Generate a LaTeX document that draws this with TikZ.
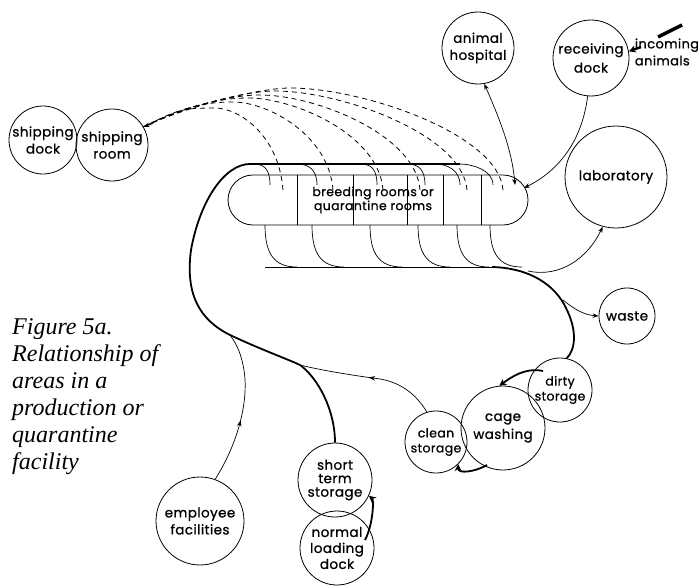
\documentclass[tikz,border=0pt]{standalone}
\usepackage{fontspec}
\setmainfont{Liberation Serif}
\newfontfamily\labelfont[LetterSpace=3,FakeBold=0.8]{Poppins}
\usetikzlibrary{arrows.meta,decorations.markings}
\begin{document}
\begin{tikzpicture}[x=1pt,y=-1pt,
  area/.style={circle,draw,line width=0.8pt,inner sep=0pt,align=center,
    font=\labelfont\fontsize{13.5}{17}\selectfont},
  thinline/.style={line width=0.7pt},
  thickline/.style={line width=1.8pt},
  dashline/.style={line width=0.8pt,dash pattern=on 5pt off 4pt},
  tip/.style={-{Stealth[length=6pt,width=4.5pt]}},
  twotip/.style={{Stealth[length=6pt,width=4.5pt]}-{Stealth[length=6pt,width=4.5pt]}},
  bigtip/.style={-{Stealth[length=7pt,width=7pt]}},
  midarrow/.style={postaction={decorate},decoration={markings,
    mark=at position #1 with {\arrow{Stealth[length=6pt,width=4.5pt]}}}}
]
\path[use as bounding box,fill=white] (0,0) rectangle (698,586);

% circles
\node[area,minimum size=68pt] (sdock) at (43,140) {shipping\\dock};
\node[area,minimum size=72pt] (sroom) at (112,145) {shipping\\room};
\node[area,minimum size=72pt] (hosp) at (478,48) {animal\\hospital};
\node[area,minimum size=76pt,font=\labelfont\fontsize{13.5}{19}\selectfont] (recv) at (591,58) {receiving\\dock};
\node[area,minimum size=102pt] (lab) at (616,177) {laboratory};
\node[area,minimum size=56pt] (waste) at (627,316) {waste};
\node[area,minimum size=64pt,font=\labelfont\fontsize{12.5}{15}\selectfont] (dirty) at (560,390) {dirty\\storage};
\node[area,minimum size=84pt,font=\labelfont\fontsize{13.5}{18}\selectfont] (cage) at (503,428) {cage\\washing};
\node[area,minimum size=62pt,font=\labelfont\fontsize{12.5}{15}\selectfont] (clean) at (436,442) {clean\\storage};
\node[area,minimum size=74pt,font=\labelfont\fontsize{13.5}{13.5}\selectfont] (short) at (335,480) {short\\term\\storage};
\node[area,minimum size=74pt,font=\labelfont\fontsize{13.5}{16}\selectfont] (load) at (337,548) {normal\\loading\\dock};
\node[area,minimum size=88pt] (emp) at (200,521) {employee\\facilities};

\node[font=\labelfont\fontsize{13}{17}\selectfont,align=left,inner sep=0pt] (inc) at (667,52) {incoming\\animals};

% rooms block
\node[draw,line width=0.8pt,rounded corners=25pt,minimum width=300pt,minimum height=50pt,inner sep=0pt] (rooms) at (378,200) {};
\foreach \x in {297,353,407,443,481} \draw[thinline] (\x,175) -- (\x,225);
\node[font=\labelfont\fontsize{12.5}{14}\selectfont,align=center,inner sep=0pt] (roomtext) at (373,200) {breeding rooms or\\quarantine rooms};

% top arcs from rooms into the collecting line
\foreach \s/\e in {253/270,297/317,360/377,407/425,435/460,460/493}
  \draw[thinline] (\s,164) .. controls (\s+12,164) and (\e,170) .. (\e,185);

% bottom arcs from rooms into lower line
\foreach \x in {265,312,370,418,457,490}
  \draw[thinline] (\x,225) .. controls (\x,255) and (\x+10,267) .. (\x+32,267);
\coordinate (botstart) at (265,267);
\coordinate (botend) at (492,267);
\draw[thinline] (botstart) -- (botend);

% main thick line (top collector to short term storage)
\coordinate (topend) at (460,164);
\coordinate (join1) at (230,335);
\coordinate (join2) at (300,365);
\draw[thickline] (topend) -- (250,164) .. controls (225,164) and (200,200) .. (191,250)
  .. controls (185,295) and (200,320) .. (join1)
  .. controls (262,350) and (285,358) .. (join2)
  .. controls (318,378) and (335,410) .. (short.north);

% thick line from lower collector to dirty storage
\draw[thickline] (botend) .. controls (530,268) and (555,285) .. (566,308)
  .. controls (578,332) and (575,350) .. (dirty.78);

% branches
\coordinate (labbr) at (528,271);
\draw[thinline,tip] (labbr) .. controls (560,278) and (588,258) .. (lab.-105);
\coordinate (wastebr) at (563,300);
\draw[thinline,tip] (wastebr) .. controls (575,310) and (585,315) .. (waste.west);

\draw[thinline,midarrow=0.42] (emp.70) .. controls (240,440) and (250,395) .. (243,365)
  .. controls (240,350) and (235,342) .. (join1);
\draw[thinline,midarrow=0.5] (clean.107) .. controls (415,392) and (398,382) .. (380,379)
  .. controls (350,375) and (320,370) .. (join2);

% hospital and receiving
\coordinate (hospin) at (515,185);
\draw[thinline,twotip] (hosp.-80) .. controls (500,120) and (512,150) .. (hospin);
\coordinate (recvin) at (524,188);
\draw[thinline,tip] (recv.-95) .. controls (582,140) and (560,170) .. (recvin);

% dashed returns to shipping room
\foreach \xs/\px/\py [count=\i] in {283/215/108,333/233/102,383/248/98,420/260/95,467/275/91,503/290/88}{
  \coordinate (d\i) at (\xs,190);
  \draw[dashline] (d\i) .. controls (\xs-4,135) and ({\px+(\xs-\px)*0.35},\py) .. (\px,\py)
     .. controls ({\px-35},\py) and (178,110) .. (sroom.30);
}
\draw[tip,line width=0.8pt] (153,123.5) -- (sroom.30);

% thick arrows between circles
\coordinate (dc1) at (543,371);
\draw[thickline,bigtip] (dc1) .. controls (525,367) and (510,378) .. (cage.95);
\coordinate (cc1) at (487,465);
\draw[thickline,bigtip] (cc1) .. controls (475,472) and (458,474) .. (clean.-45);
\coordinate (ls1) at (365,540);
\draw[thickline,bigtip] (ls1) .. controls (373,525) and (374,500) .. (short.-25);

% incoming animals
\coordinate (inc1) at (682,25);
\coordinate (inc2) at (658,37);
\draw[line width=3.5pt] (inc1) -- (inc2);
\coordinate (inc3) at (641,47);
\draw[line width=2.4pt,-{Stealth[length=7pt,width=7pt]}] (inc3) -- (recv.10);

% caption
\node[anchor=north west,inner sep=0pt,align=left,
  font=\itshape\fontsize{24}{27}\selectfont] (caption) at (12,318.5)
  {Figure 5a.\\Relationship of\\areas in a\\production or\\quarantine\\facility};
\end{tikzpicture}
\end{document}
